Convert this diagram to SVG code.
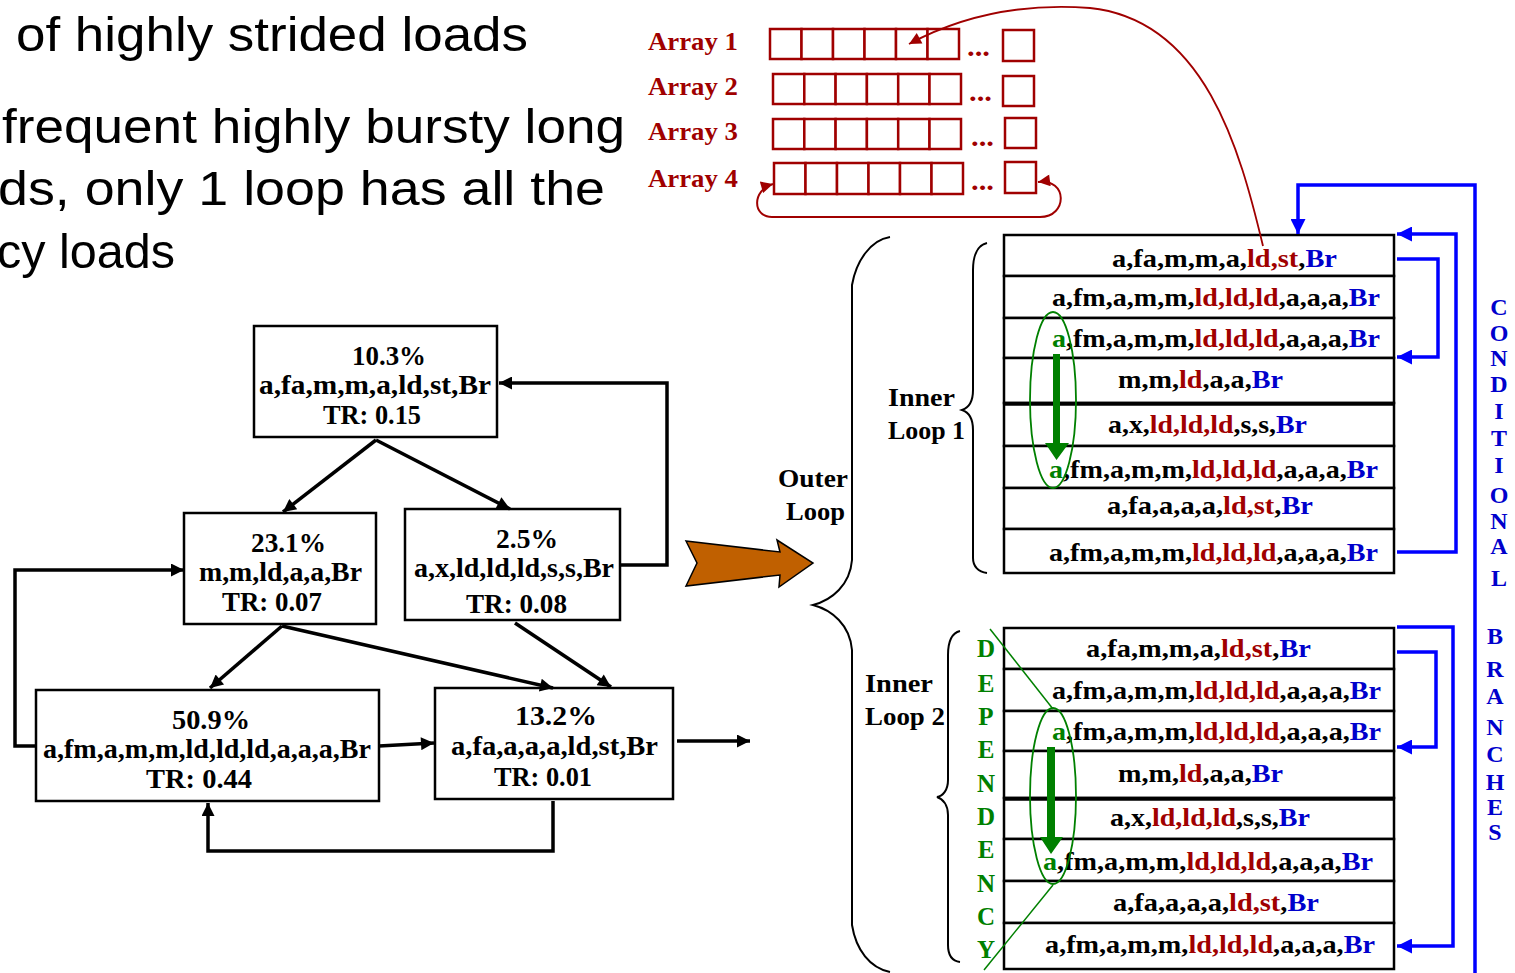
<svg xmlns="http://www.w3.org/2000/svg" width="1515" height="973" viewBox="0 0 1515 973">
<defs>
<style>
.sans{font-family:"Liberation Sans",Arial,sans-serif;fill:#000}
.tb{font-family:"Liberation Serif","Times New Roman",serif;font-weight:bold}
.box{fill:#fff;stroke:#000;stroke-width:2.5}
.row{fill:#fff;stroke:#000;stroke-width:2.5}
.cell{fill:#fff;stroke:#a00000;stroke-width:2.5}
.edge{fill:none;stroke:#000;stroke-width:3.5}
.blue{fill:none;stroke:#0000ff;stroke-width:3.5}
.brace{fill:none;stroke:#000;stroke-width:2}
.k{fill:#000}.r{fill:#a00000}.b{fill:#0000cc}.g{fill:#008000}
.cfg{font-size:28px}
.stk{font-size:26px}
.lbl{font-size:25px}
.arr{font-size:25px;fill:#a00000}
.dots{font-size:28px;fill:#a00000}
.dep{font-size:25px;fill:#008000}
.cond{font-size:24px;fill:#0000cc}
</style>
<marker id="mk" viewBox="0 0 10 10" refX="10" refY="5" markerWidth="16" markerHeight="13" markerUnits="userSpaceOnUse" orient="auto"><path d="M0,0L10,5L0,10z" fill="#000"/></marker>
<marker id="mb" viewBox="0 0 10 10" refX="10" refY="5" markerWidth="17" markerHeight="15" markerUnits="userSpaceOnUse" orient="auto"><path d="M0,0L10,5L0,10z" fill="#0000ff"/></marker>
<marker id="mr" viewBox="0 0 10 10" refX="10" refY="5" markerWidth="16" markerHeight="12" markerUnits="userSpaceOnUse" orient="auto-start-reverse"><path d="M0,0L10,5L0,10z" fill="#a00000"/></marker>
</defs>

<!-- top-left slide text -->
<g id="slide-text" class="sans" font-size="48">
<text x="16" y="51" textLength="512" lengthAdjust="spacingAndGlyphs">of highly strided loads</text>
<text x="2" y="143" textLength="623" lengthAdjust="spacingAndGlyphs">frequent highly bursty long</text>
<text x="-2" y="205" textLength="607" lengthAdjust="spacingAndGlyphs">ds, only 1 loop has all the</text>
<text x="-3" y="268" textLength="178" lengthAdjust="spacingAndGlyphs">cy loads</text>
</g>

<!-- arrays -->
<g id="array1">
<text class="tb arr" x="648" y="50" textLength="90" lengthAdjust="spacingAndGlyphs">Array 1</text>
<rect class="cell" x="770" y="29" width="31.5" height="30"/><rect class="cell" x="801.5" y="29" width="31.5" height="30"/><rect class="cell" x="833" y="29" width="31.5" height="30"/><rect class="cell" x="864.5" y="29" width="31.5" height="30"/><rect class="cell" x="896" y="29" width="31.5" height="30"/><rect class="cell" x="927.5" y="29" width="31.5" height="30"/>
<text class="tb dots" x="967" y="56" textLength="23" lengthAdjust="spacingAndGlyphs">...</text>
<rect class="cell" x="1003" y="30" width="31" height="31"/>
</g>
<g id="array2">
<text class="tb arr" x="648" y="95" textLength="90" lengthAdjust="spacingAndGlyphs">Array 2</text>
<rect class="cell" x="773" y="74" width="31.3" height="30"/><rect class="cell" x="804.3" y="74" width="31.3" height="30"/><rect class="cell" x="835.6" y="74" width="31.3" height="30"/><rect class="cell" x="866.9" y="74" width="31.3" height="30"/><rect class="cell" x="898.2" y="74" width="31.3" height="30"/><rect class="cell" x="929.5" y="74" width="31.5" height="30"/>
<text class="tb dots" x="969" y="101" textLength="23" lengthAdjust="spacingAndGlyphs">...</text>
<rect class="cell" x="1003" y="76" width="31" height="30"/>
</g>
<g id="array3">
<text class="tb arr" x="648" y="140" textLength="90" lengthAdjust="spacingAndGlyphs">Array 3</text>
<rect class="cell" x="773" y="119" width="31.3" height="30"/><rect class="cell" x="804.3" y="119" width="31.3" height="30"/><rect class="cell" x="835.6" y="119" width="31.3" height="30"/><rect class="cell" x="866.9" y="119" width="31.3" height="30"/><rect class="cell" x="898.2" y="119" width="31.3" height="30"/><rect class="cell" x="929.5" y="119" width="31.5" height="30"/>
<text class="tb dots" x="971" y="146" textLength="23" lengthAdjust="spacingAndGlyphs">...</text>
<rect class="cell" x="1005" y="118" width="31" height="30"/>
</g>
<g id="array4">
<text class="tb arr" x="648" y="187" textLength="90" lengthAdjust="spacingAndGlyphs">Array 4</text>
<rect class="cell" x="774" y="163" width="31.5" height="31"/><rect class="cell" x="805.5" y="163" width="31.5" height="31"/><rect class="cell" x="837" y="163" width="31.5" height="31"/><rect class="cell" x="868.5" y="163" width="31.5" height="31"/><rect class="cell" x="900" y="163" width="31.5" height="31"/><rect class="cell" x="931.5" y="163" width="31.5" height="31"/>
<text class="tb dots" x="971" y="190" textLength="23" lengthAdjust="spacingAndGlyphs">...</text>
<rect class="cell" x="1005" y="162" width="31" height="31"/>
</g>

<!-- CFG nodes -->
<g id="node-10" class="tb cfg">
<rect class="box" x="254" y="326" width="243" height="111"/>
<text x="352" y="365" textLength="74" lengthAdjust="spacingAndGlyphs">10.3%</text>
<text x="259" y="394" textLength="232" lengthAdjust="spacingAndGlyphs">a,fa,m,m,a,ld,st,Br</text>
<text x="323" y="424" textLength="98" lengthAdjust="spacingAndGlyphs">TR: 0.15</text>
</g>
<g id="node-23" class="tb cfg">
<rect class="box" x="184" y="513" width="192" height="111"/>
<text x="251" y="552" textLength="75" lengthAdjust="spacingAndGlyphs">23.1%</text>
<text x="199" y="581" textLength="163" lengthAdjust="spacingAndGlyphs">m,m,ld,a,a,Br</text>
<text x="222" y="611" textLength="100" lengthAdjust="spacingAndGlyphs">TR: 0.07</text>
</g>
<g id="node-2" class="tb cfg">
<rect class="box" x="405" y="509" width="215" height="111"/>
<text x="496" y="548" textLength="62" lengthAdjust="spacingAndGlyphs">2.5%</text>
<text x="414" y="577" textLength="200" lengthAdjust="spacingAndGlyphs">a,x,ld,ld,ld,s,s,Br</text>
<text x="466" y="613" textLength="101" lengthAdjust="spacingAndGlyphs">TR: 0.08</text>
</g>
<g id="node-50" class="tb cfg">
<rect class="box" x="36" y="690" width="343" height="111"/>
<text x="172" y="729" textLength="78" lengthAdjust="spacingAndGlyphs">50.9%</text>
<text x="43" y="758" textLength="328" lengthAdjust="spacingAndGlyphs">a,fm,a,m,m,ld,ld,ld,a,a,a,Br</text>
<text x="146" y="788" textLength="106" lengthAdjust="spacingAndGlyphs">TR: 0.44</text>
</g>
<g id="node-13" class="tb cfg">
<rect class="box" x="435" y="688" width="238" height="111"/>
<text x="515" y="725" textLength="82" lengthAdjust="spacingAndGlyphs">13.2%</text>
<text x="451" y="755" textLength="207" lengthAdjust="spacingAndGlyphs">a,fa,a,a,a,ld,st,Br</text>
<text x="494" y="786" textLength="98" lengthAdjust="spacingAndGlyphs">TR: 0.01</text>
</g>

<!-- orange transform arrow -->
<g id="big-arrow">
<path d="M686,541 L780,552 L777,540 L813,563 L779,587 L780,575 L686,586 L697,563 Z" fill="#c06000" stroke="#000" stroke-width="1.5" stroke-linejoin="miter"/>
</g>

<!-- braces and labels -->
<g id="outer-loop">
<path class="brace" d="M890,237 C870,240 856,262 852,285 L852,560 C850,585 832,600 813,605 C832,610 850,625 852,650 L852,925 C856,950 870,968 890,972"/>
<text class="tb lbl" x="778" y="487" textLength="70" lengthAdjust="spacingAndGlyphs">Outer</text>
<text class="tb lbl" x="786" y="520" textLength="59" lengthAdjust="spacingAndGlyphs">Loop</text>
</g>
<g id="inner-loop-1">
<path class="brace" d="M987,243 C978,245 973,255 973,270 L973,390 C973,402 968,408 962,410 C968,412 973,418 973,430 L973,558 C973,566 978,572 987,573"/>
<text class="tb lbl" x="888" y="406" textLength="67" lengthAdjust="spacingAndGlyphs">Inner</text>
<text class="tb lbl" x="888" y="439" textLength="77" lengthAdjust="spacingAndGlyphs">Loop 1</text>
</g>
<g id="inner-loop-2">
<path class="brace" d="M960,631 C952,633 948,642 948,655 L948,780 C948,790 943,796 937,797 C943,799 948,805 948,815 L948,945 C948,955 952,961 960,962"/>
<text class="tb lbl" x="865" y="692" textLength="68" lengthAdjust="spacingAndGlyphs">Inner</text>
<text class="tb lbl" x="865" y="725" textLength="80" lengthAdjust="spacingAndGlyphs">Loop 2</text>
</g>

<!-- inner loop 1 stack -->
<g id="stack1" class="tb stk">
<rect class="row" x="1004" y="235" width="390" height="41"/>
<rect class="row" x="1004" y="276" width="390" height="42"/>
<rect class="row" x="1004" y="318" width="390" height="40"/>
<rect class="row" x="1004" y="358" width="390" height="45"/>
<rect class="row" x="1004" y="403" width="390" height="43"/>
<rect class="row" x="1004" y="446" width="390" height="42"/>
<rect class="row" x="1004" y="488" width="390" height="41"/>
<rect class="row" x="1004" y="529" width="390" height="44"/>
<line x1="1004" y1="404" x2="1394" y2="404" stroke="#000" stroke-width="3.5"/>
<text x="1112" y="267" textLength="225" lengthAdjust="spacingAndGlyphs"><tspan class="k">a,fa,m,m,a,</tspan><tspan class="r">ld,st</tspan><tspan class="k">,</tspan><tspan class="b">Br</tspan></text>
<text x="1052" y="306" textLength="328" lengthAdjust="spacingAndGlyphs"><tspan class="k">a,fm,a,m,m,</tspan><tspan class="r">ld,ld,ld</tspan><tspan class="k">,a,a,a,</tspan><tspan class="b">Br</tspan></text>
<text x="1052" y="347" textLength="328" lengthAdjust="spacingAndGlyphs"><tspan class="g">a</tspan><tspan class="k">,fm,a,m,m,</tspan><tspan class="r">ld,ld,ld</tspan><tspan class="k">,a,a,a,</tspan><tspan class="b">Br</tspan></text>
<text x="1118" y="388" textLength="165" lengthAdjust="spacingAndGlyphs"><tspan class="k">m,m,</tspan><tspan class="r">ld</tspan><tspan class="k">,a,a,</tspan><tspan class="b">Br</tspan></text>
<text x="1108" y="433" textLength="199" lengthAdjust="spacingAndGlyphs"><tspan class="k">a,x,</tspan><tspan class="r">ld,ld,ld</tspan><tspan class="k">,s,s,</tspan><tspan class="b">Br</tspan></text>
<text x="1049" y="478" textLength="329" lengthAdjust="spacingAndGlyphs"><tspan class="g">a</tspan><tspan class="k">,fm,a,m,m,</tspan><tspan class="r">ld,ld,ld</tspan><tspan class="k">,a,a,a,</tspan><tspan class="b">Br</tspan></text>
<text x="1107" y="514" textLength="206" lengthAdjust="spacingAndGlyphs"><tspan class="k">a,fa,a,a,a,</tspan><tspan class="r">ld,st</tspan><tspan class="k">,</tspan><tspan class="b">Br</tspan></text>
<text x="1049" y="561" textLength="329" lengthAdjust="spacingAndGlyphs"><tspan class="k">a,fm,a,m,m,</tspan><tspan class="r">ld,ld,ld</tspan><tspan class="k">,a,a,a,</tspan><tspan class="b">Br</tspan></text>
</g>

<!-- inner loop 2 stack -->
<g id="stack2" class="tb stk">
<rect class="row" x="1004" y="628" width="390" height="41"/>
<rect class="row" x="1004" y="669" width="390" height="42"/>
<rect class="row" x="1004" y="711" width="390" height="40"/>
<rect class="row" x="1004" y="751" width="390" height="47"/>
<rect class="row" x="1004" y="798" width="390" height="41"/>
<rect class="row" x="1004" y="839" width="390" height="42"/>
<rect class="row" x="1004" y="881" width="390" height="42"/>
<rect class="row" x="1004" y="923" width="390" height="46"/>
<line x1="1004" y1="799" x2="1394" y2="799" stroke="#000" stroke-width="3.5"/>
<text x="1086" y="657" textLength="225" lengthAdjust="spacingAndGlyphs"><tspan class="k">a,fa,m,m,a,</tspan><tspan class="r">ld,st</tspan><tspan class="k">,</tspan><tspan class="b">Br</tspan></text>
<text x="1052" y="699" textLength="329" lengthAdjust="spacingAndGlyphs"><tspan class="k">a,fm,a,m,m,</tspan><tspan class="r">ld,ld,ld</tspan><tspan class="k">,a,a,a,</tspan><tspan class="b">Br</tspan></text>
<text x="1052" y="740" textLength="329" lengthAdjust="spacingAndGlyphs"><tspan class="g">a</tspan><tspan class="k">,fm,a,m,m,</tspan><tspan class="r">ld,ld,ld</tspan><tspan class="k">,a,a,a,</tspan><tspan class="b">Br</tspan></text>
<text x="1118" y="782" textLength="165" lengthAdjust="spacingAndGlyphs"><tspan class="k">m,m,</tspan><tspan class="r">ld</tspan><tspan class="k">,a,a,</tspan><tspan class="b">Br</tspan></text>
<text x="1110" y="826" textLength="200" lengthAdjust="spacingAndGlyphs"><tspan class="k">a,x,</tspan><tspan class="r">ld,ld,ld</tspan><tspan class="k">,s,s,</tspan><tspan class="b">Br</tspan></text>
<text x="1043" y="870" textLength="330" lengthAdjust="spacingAndGlyphs"><tspan class="g">a</tspan><tspan class="k">,fm,a,m,m,</tspan><tspan class="r">ld,ld,ld</tspan><tspan class="k">,a,a,a,</tspan><tspan class="b">Br</tspan></text>
<text x="1113" y="911" textLength="206" lengthAdjust="spacingAndGlyphs"><tspan class="k">a,fa,a,a,a,</tspan><tspan class="r">ld,st</tspan><tspan class="k">,</tspan><tspan class="b">Br</tspan></text>
<text x="1045" y="953" textLength="330" lengthAdjust="spacingAndGlyphs"><tspan class="k">a,fm,a,m,m,</tspan><tspan class="r">ld,ld,ld</tspan><tspan class="k">,a,a,a,</tspan><tspan class="b">Br</tspan></text>
</g>

<!-- dependency markings -->
<g id="dependency">
<ellipse cx="1053" cy="400" rx="23" ry="88" fill="none" stroke="#008000" stroke-width="1.8"/>
<path d="M1053,354 H1060 V443 H1069 L1056.5,460 L1045,443 H1053 Z" fill="#008000"/>
<ellipse cx="1053" cy="796" rx="23" ry="88" fill="none" stroke="#008000" stroke-width="1.8"/>
<path d="M1047,747 H1055 V837 H1063 L1051,854 L1040,837 H1047 Z" fill="#008000"/>
<line x1="990" y1="629" x2="1053" y2="709" stroke="#008000" stroke-width="1.5"/>
<line x1="1053" y1="885" x2="984" y2="970" stroke="#008000" stroke-width="1.5"/>
<g class="tb dep" text-anchor="middle">
<text x="986" y="657">D</text><text x="986" y="692">E</text><text x="986" y="725">P</text><text x="986" y="758">E</text><text x="986" y="792">N</text><text x="986" y="825">D</text><text x="986" y="858">E</text><text x="986" y="892">N</text><text x="986" y="925">C</text><text x="986" y="958">Y</text>
</g>
</g>

<g id="conditional-label" class="tb cond" text-anchor="middle">
<text x="1499" y="315">C</text><text x="1499" y="341">O</text><text x="1499" y="366">N</text><text x="1499" y="392">D</text><text x="1499" y="419">I</text><text x="1499" y="446">T</text><text x="1499" y="473">I</text><text x="1499" y="503">O</text><text x="1499" y="529">N</text><text x="1499" y="554">A</text><text x="1499" y="586">L</text>
<text x="1495" y="644">B</text><text x="1495" y="677">R</text><text x="1495" y="704">A</text><text x="1495" y="735">N</text><text x="1495" y="762">C</text><text x="1495" y="790">H</text><text x="1495" y="815">E</text><text x="1495" y="840">S</text>
</g>

<!-- connectors -->
<g id="connectors">
<path class="edge" d="M376,440 L283,512" marker-end="url(#mk)"/>
<path class="edge" d="M376,440 L510,509" marker-end="url(#mk)"/>
<path class="edge" d="M620,565 L667,565 L667,383 L499,383" marker-end="url(#mk)"/>
<path class="edge" d="M36,746 L15,746 L15,570 L184,570" marker-end="url(#mk)"/>
<path class="edge" d="M282,626 L210,688" marker-end="url(#mk)"/>
<path class="edge" d="M282,626 L553,688" stroke-width="4" marker-end="url(#mk)"/>
<path class="edge" d="M515,623 L611,687" marker-end="url(#mk)"/>
<path class="edge" d="M379,746 L434,743" marker-end="url(#mk)"/>
<path class="edge" d="M677,741 L750,741" marker-end="url(#mk)"/>
<path class="edge" d="M553,801 L553,851 L208,851 L208,803" marker-end="url(#mk)"/>

<path class="blue" d="M1397,552 L1456,552 L1456,234 L1397,234" marker-end="url(#mb)"/>
<path class="blue" d="M1397,259 L1438,259 L1438,357 L1397,357" marker-end="url(#mb)"/>
<path class="blue" d="M1397,627 L1453,627 L1453,946 L1397,946" marker-end="url(#mb)"/>
<path class="blue" d="M1397,652 L1436,652 L1436,747 L1397,747" marker-end="url(#mb)"/>
<path class="blue" d="M1475,975 L1475,185 L1298,185 L1298,234" marker-end="url(#mb)"/>

<path d="M1263,246 C1240,150 1205,20 1090,8 C1010,2 950,22 909,44" fill="none" stroke="#a00000" stroke-width="1.8" marker-end="url(#mr)"/>
<path d="M773,184 C752,190 752,217 772,217 L1040,217 C1068,217 1068,178 1038,182" fill="none" stroke="#a00000" stroke-width="2" marker-start="url(#mr)" marker-end="url(#mr)"/>
</g>
</svg>
